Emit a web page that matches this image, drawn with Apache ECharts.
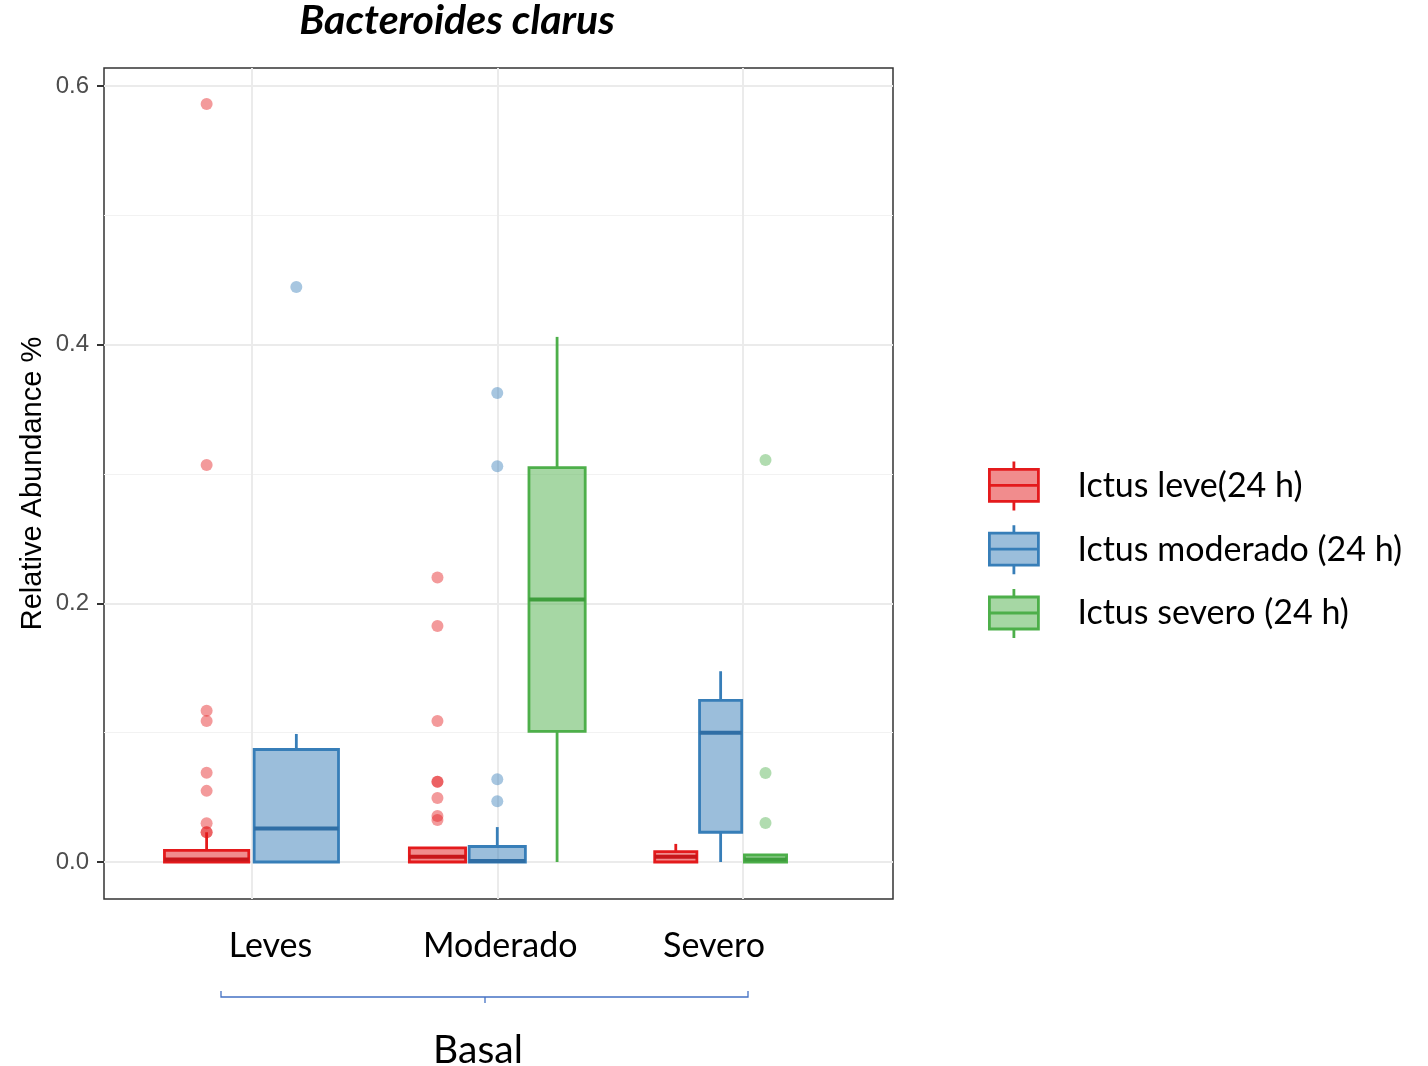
<!DOCTYPE html>
<html>
<head>
<meta charset="utf-8">
<script src="https://cdn.jsdelivr.net/npm/echarts@6/dist/echarts.min.js"></script>
<style>
html,body{margin:0;padding:0;background:#fff;}
#chart{width:1428px;height:1066px;}
</style>
</head>
<body>
<div id="chart"></div>
<script>
// ---------- DATA ----------
const categories = ['Leves', 'Moderado', 'Severo'];
const groupNames = ['Ictus leve(24 h)', 'Ictus moderado (24 h)', 'Ictus severo (24 h)'];
const yTicks = [0, 0.2, 0.4, 0.6];
const yTickLabels = ['0.0', '0.2', '0.4', '0.6'];
const yMinorGrid = [0.1, 0.3, 0.5];

// box stats per group, per category: [min, q1, median, q3, max]  (null = group absent)
const leveStats     = [[0, 0, 0.002, 0.009, 0.023], [0, 0, 0.004, 0.011, 0.011], [0, 0, 0.004, 0.008, 0.014]];
const moderadoStats = [[0, 0, 0.026, 0.087, 0.099], [0, 0, 0.0008, 0.012, 0.027], [0, 0.023, 0.100, 0.125, 0.1475]];
const severoStats   = [null, [0, 0.101, 0.203, 0.305, 0.406], [0, 0, 0.002, 0.0054, 0.0054]];

// outliers per group, per category
const leveOut     = [[0.586, 0.307, 0.117, 0.109, 0.069, 0.055, 0.030, 0.023, 0.023], [0.220, 0.1825, 0.109, 0.062, 0.062, 0.0495, 0.0356, 0.0325], []];
const moderadoOut = [[0.4446], [0.3626, 0.306, 0.064, 0.047], []];
const severoOut   = [[], [], [0.3108, 0.0688, 0.0302]];

// ---------- LAYOUT (dodge) ----------
const slotCount = [2, 3, 4];   // dodge slots per category
const slotIndex = [[0, 0, 0], [1, 1, 1], [null, 2, 2]]; // [group][category]
const dodgeWidth = 0.73;
const boxFrac = 0.94;

const colors = ['#E41A1C', '#377EB8', '#4DAF4A'];
const fills  = ['rgba(228,26,28,0.5)', 'rgba(55,126,184,0.5)', 'rgba(77,175,74,0.5)'];
const ptCols = ['rgba(228,26,28,0.55)', 'rgba(55,126,184,0.55)', 'rgba(77,175,74,0.55)'];
const medCols = ['#C8161A', '#2F6EA5', '#3E9E3C'];

const allStats = [leveStats, moderadoStats, severoStats];
const allOut = [leveOut, moderadoOut, severoOut];

function slotX(g, c) {
  const n = slotCount[c];
  const sw = dodgeWidth / n;
  return { x: (c + 1) - dodgeWidth / 2 + (slotIndex[g][c] + 0.5) * sw, hw: sw * boxFrac / 2 };
}

const FONT = 'Lato, "Open Sans", sans-serif';
const ARIAL = '"Liberation Sans", Arial, sans-serif';
const series = [];

// gridlines holder
series.push({
  type: 'line', name: '_grid', data: [], silent: true, z: 1,
  markLine: {
    silent: true, symbol: 'none', z: 1, label: { show: false }, animation: false,
    data: [
      ...yTicks.map(v => ({ yAxis: v, lineStyle: { color: '#EBEBEB', width: 2, type: 'solid' } })),
      ...yMinorGrid.map(v => ({ yAxis: v, lineStyle: { color: '#F2F2F2', width: 1.2, type: 'solid' } })),
      ...categories.map((c, i) => ({ xAxis: i + 1, lineStyle: { color: '#EBEBEB', width: 2, type: 'solid' } }))
    ]
  }
});

groupNames.forEach((name, g) => {
  const data = [];
  allStats[g].forEach((s, c) => {
    if (!s) return;
    const p = slotX(g, c);
    data.push([p.x, s[0], s[1], s[2], s[3], s[4], p.hw]);
  });
  series.push({
    type: 'custom', name: name, z: 3,
    data: data,
    encode: { x: 0, y: [1, 2, 3, 4, 5] },
    renderItem: function (params, api) {
      const x = api.value(0), hw = api.value(6);
      const pMin = api.coord([x, api.value(1)]);
      const pQ1 = api.coord([x, api.value(2)]);
      const pMed = api.coord([x, api.value(3)]);
      const pQ3 = api.coord([x, api.value(4)]);
      const pMax = api.coord([x, api.value(5)]);
      const L = api.coord([x - hw, 0])[0], R = api.coord([x + hw, 0])[0];
      const children = [];
      if (pMax[1] < pQ3[1] - 0.5) children.push({ type: 'line', shape: { x1: pMax[0], y1: pMax[1], x2: pQ3[0], y2: pQ3[1] }, style: { stroke: colors[g], lineWidth: 2.8 } });
      if (pMin[1] > pQ1[1] + 0.5) children.push({ type: 'line', shape: { x1: pMin[0], y1: pMin[1], x2: pQ1[0], y2: pQ1[1] }, style: { stroke: colors[g], lineWidth: 2.8 } });
      children.push({ type: 'rect', shape: { x: L, y: pQ3[1], width: R - L, height: Math.max(pQ1[1] - pQ3[1], 1) }, style: { fill: fills[g], stroke: colors[g], lineWidth: 2.8 } });
      children.push({ type: 'line', shape: { x1: L, y1: pMed[1], x2: R, y2: pMed[1] }, style: { stroke: medCols[g], lineWidth: 4 } });
      return { type: 'group', children: children };
    }
  });
  const pts = [];
  allOut[g].forEach((arr, c) => {
    if (!allStats[g][c]) return;
    const p = slotX(g, c);
    arr.forEach(v => pts.push([p.x, v]));
  });
  series.push({
    type: 'scatter', name: name, z: 4, data: pts, symbolSize: 12,
    itemStyle: { color: ptCols[g] }, silent: true
  });
});

const option = {
  animation: false,
  backgroundColor: '#fff',
  title: {
    text: 'Bacteroides clarus', left: 452, top: -5, textAlign: 'center',
    textStyle: { fontFamily: FONT, fontStyle: 'italic', fontWeight: 'bold', fontSize: 41, color: '#000' }
  },
  grid: { left: 104, right: 535, top: 68, bottom: 167, show: true, borderColor: '#333', borderWidth: 1.5, backgroundColor: 'transparent', containLabel: false, outerBoundsMode: 'none' },
  xAxis: {
    type: 'value', min: 0.4, max: 3.61,
    axisLine: { show: false },
    splitLine: { show: false },
    axisTick: { show: true, customValues: [1, 2, 3], length: 7, lineStyle: { color: '#333', width: 2 } },
    axisLabel: {
      show: true, customValues: [1, 2, 3], margin: 30,
      formatter: function (v) {
        const name = categories[Math.round(v) - 1];
        if (name === 'Leves') return '{l1|}{t|Leves}';
        if (name === 'Moderado') return '{l2|}{t|Moderado}';
        return '{t|Severo}{r3|}';
      },
      rich: {
        t: { fontFamily: FONT, fontSize: 34, color: '#000' },
        l1: { width: 38 },
        l2: { width: 6 },
        r3: { width: 58 }
      }
    }
  },
  yAxis: {
    type: 'value', min: -0.0286, max: 0.6139,
    axisLine: { show: false },
    splitLine: { show: false },
    axisTick: { show: true, customValues: yTicks, length: 7, lineStyle: { color: '#333', width: 2 } },
    axisLabel: {
      show: true, customValues: yTicks, margin: 15, color: '#4D4D4D', fontSize: 24,
      fontFamily: ARIAL,
      formatter: function (v) { const i = yTicks.findIndex(t => Math.abs(t - v) < 1e-9); return i >= 0 ? yTickLabels[i] : ''; }
    },
    name: 'Relative Abundance %', nameLocation: 'middle', nameRotate: 90, nameGap: 57,
    nameMoveOverlap: false,
    nameTextStyle: { fontFamily: ARIAL, fontSize: 29, color: '#000' }
  },
  legend: {
    orient: 'vertical', left: 988, top: 460, padding: 0,
    itemWidth: 49, itemHeight: 50, itemGap: 12,
    selectedMode: false,
    formatter: '{g|}{name}',
    textStyle: { fontFamily: FONT, fontSize: 34, color: '#000', rich: { g: { width: 34 } } },
    data: groupNames.map((n, g) => ({
      name: n,
      icon: 'path://M0,8H49V40H0Z M0,24H49 M24.5,0V8 M24.5,40V49',
      itemStyle: { color: fills[g], borderColor: colors[g], borderWidth: 2.8 }
    }))
  },
  graphic: [
    { type: 'polyline', shape: { points: [[221, 991], [221, 997], [748, 997], [748, 991]] }, style: { stroke: '#4472C4', lineWidth: 1.3, fill: null } },
    { type: 'line', shape: { x1: 485, y1: 997, x2: 485, y2: 1003 }, style: { stroke: '#4472C4', lineWidth: 1.3 } },
    { type: 'text', x: 478, y: 1050, style: { text: 'Basal', fontFamily: FONT, fontSize: 39, fill: '#000', textAlign: 'center', textVerticalAlign: 'middle' } }
  ],
  series: series
};

const chart = echarts.init(document.getElementById('chart'));
chart.setOption(option);
</script>
</body>
</html>
